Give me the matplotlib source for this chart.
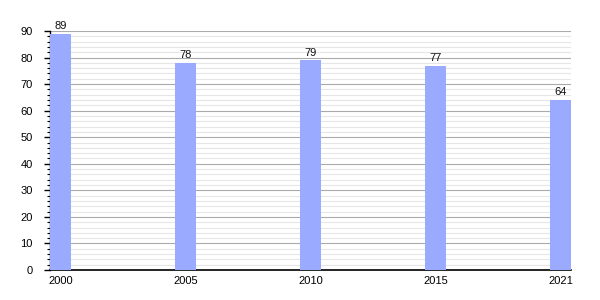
import matplotlib
matplotlib.use("Agg")
import matplotlib.pyplot as plt
from matplotlib.ticker import MultipleLocator

years = ["2000", "2005", "2010", "2015", "2021"]
values = [89, 78, 79, 77, 64]

plt.rcParams['font.family'] = ['Liberation Sans', 'DejaVu Sans']

fig = plt.figure(figsize=(6, 3), dpi=100)
ax = fig.add_axes([50/600, 30/300, 521/600, 239/300])

x = list(range(len(years)))
ax.bar(x, values, width=0.168, color="#99aaff", zorder=3)
for xi, v in zip(x, values):
    ax.text(xi, v + 1.0, str(v), ha="center", va="bottom", fontsize=8, color="#111111")

ax.set_xlim(-0.084, len(years) - 1 + 0.084)
ax.set_ylim(0, 90)
ax.set_xticks(x)
ax.set_xticklabels(years)
ax.yaxis.set_major_locator(MultipleLocator(10))
ax.yaxis.set_minor_locator(MultipleLocator(2))
ax.grid(axis="y", which="major", color="#aaaaaa", linewidth=0.8, zorder=1)
ax.grid(axis="y", which="minor", color="#e6e6e6", linewidth=0.8, zorder=0)
ax.set_axisbelow(True)

for s in ["top", "right"]:
    ax.spines[s].set_visible(False)
ax.spines["left"].set_linewidth(1.0)
ax.spines["bottom"].set_linewidth(1.2)

ax.tick_params(axis="y", which="major", length=4.5, width=1, labelsize=8, pad=8)
ax.tick_params(axis="y", which="minor", length=2.5, width=0.8)
ax.tick_params(axis="x", which="both", length=0, labelsize=8, pad=4)

fig.savefig("out.png", dpi=100, facecolor="white")
